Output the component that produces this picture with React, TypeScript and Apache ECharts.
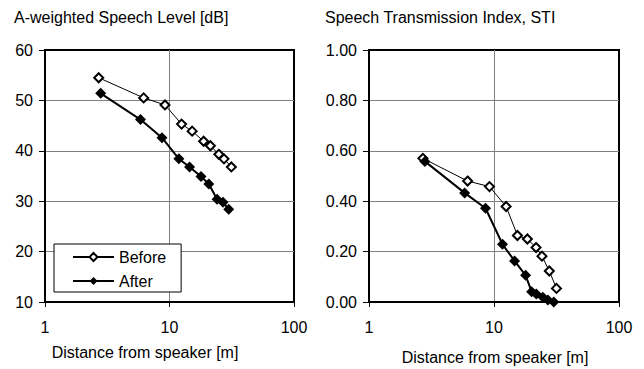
import React, { useEffect, useRef } from "react";
import * as echarts from "echarts";

const FONT = "'Liberation Sans', Arial, sans-serif";

// Left chart: A-weighted speech level [dB]
const levelBeforeX = [2.7, 6.2, 9.2, 12.5, 15.2, 18.8, 21.3, 24.9, 27.4, 31.4];
const levelBeforeY = [54.5, 50.5, 49.1, 45.3, 43.9, 41.9, 41.0, 39.3, 38.4, 36.8];
const levelAfterX = [2.8, 5.85, 8.7, 11.9, 14.5, 17.9, 20.7, 24.1, 26.9, 29.9];
const levelAfterY = [51.4, 46.2, 42.6, 38.4, 36.8, 34.9, 33.4, 30.4, 29.8, 28.4];

// Right chart: STI
const stiBeforeX = [2.7, 6.15, 9.2, 12.5, 15.4, 18.5, 21.7, 24.2, 27.7, 31.6];
const stiBeforeY = [0.57, 0.48, 0.458, 0.379, 0.264, 0.25, 0.216, 0.182, 0.123, 0.054];
const stiAfterX = [2.8, 5.82, 8.55, 11.7, 14.6, 17.9, 20.0, 21.8, 24.6, 27.0, 30.1];
const stiAfterY = [0.558, 0.433, 0.372, 0.229, 0.163, 0.106, 0.041, 0.032, 0.019, 0.008, 0.0];

const xTicks = [1, 10, 100];
const levelTicks = [10, 20, 30, 40, 50, 60];
const stiTicks = [0, 0.2, 0.4, 0.6, 0.8, 1.0];

const titles = ["A-weighted Speech Level [dB]", "Speech Transmission Index, STI"];
const xName = "Distance from speaker [m]";
const seriesNames = ["Before", "After"];

const zip = (xs: number[], ys: number[]) => xs.map((x, i) => [x, ys[i]]);

export default function App() {
  const ref = useRef<HTMLDivElement>(null);
  useEffect(() => {
    if (!ref.current) return;
    const chart = echarts.init(ref.current, null, { renderer: "svg" });
    const grids = [
      { left: 45, top: 50, width: 249, height: 252 },
      { left: 369, top: 50, width: 250, height: 252 },
    ];
    const xAxisBase = (gi: number) => ({
      type: "log",
      logBase: 10,
      gridIndex: gi,
      min: xTicks[0],
      max: xTicks[xTicks.length - 1],
      axisLine: { show: true, lineStyle: { color: "#000", width: 2 } },
      axisTick: { show: true, inside: false, length: 5, lineStyle: { color: "#000", width: 1 } },
      axisLabel: { color: "#000", fontSize: 16, fontFamily: FONT, margin: 17 },
      splitLine: { show: true, showMinLine: false, showMaxLine: false, lineStyle: { color: "#808080", width: 1 } },
      minorTick: { show: false },
    });
    const yAxisBase = (gi: number, ticks: number[], fmt: (v: number) => string) => ({
      type: "value",
      gridIndex: gi,
      min: ticks[0],
      max: ticks[ticks.length - 1],
      interval: ticks[1] - ticks[0],
      axisLine: { show: true, lineStyle: { color: "#000", width: 2 } },
      axisTick: { show: true, inside: false, length: 6, lineStyle: { color: "#000", width: 1 } },
      axisLabel: { color: "#000", fontSize: 16, fontFamily: FONT, margin: 12, formatter: fmt },
      splitLine: { show: true, showMinLine: false, showMaxLine: false, lineStyle: { color: "#808080", width: 1 } },
    });
    const beforeSeries = (gi: number, data: number[][]) => ({
      name: seriesNames[0],
      type: "line",
      xAxisIndex: gi,
      yAxisIndex: gi,
      data,
      symbol: "diamond",
      symbolSize: 9,
      showAllSymbol: true,
      lineStyle: { color: "#000", width: 1 },
      itemStyle: { color: "#fff", borderColor: "#000", borderWidth: 2 },
      z: 3,
    });
    const afterSeries = (gi: number, data: number[][]) => ({
      name: seriesNames[1],
      type: "line",
      xAxisIndex: gi,
      yAxisIndex: gi,
      data,
      symbol: "diamond",
      symbolSize: 11,
      showAllSymbol: true,
      lineStyle: { color: "#000", width: 2 },
      itemStyle: { color: "#000", borderColor: "#000", borderWidth: 0 },
      z: 4,
    });
    const textEl = (text: string, x: number, y: number, align: string) => ({
      type: "text",
      x,
      y,
      silent: true,
      style: {
        text,
        fill: "#000",
        font: `16px ${FONT}`,
        align,
        verticalAlign: "middle",
        textAlign: align,
        textVerticalAlign: "middle",
      },
    });
    chart.setOption({
      animation: false,
      backgroundColor: "#fff",
      grid: grids.map((g) => ({ ...g, show: true, borderColor: "#000", borderWidth: 2, backgroundColor: "transparent" })),
      xAxis: [xAxisBase(0), xAxisBase(1)],
      yAxis: [
        yAxisBase(0, levelTicks, (v: number) => String(v)),
        yAxisBase(1, stiTicks, (v: number) => v.toFixed(2)),
      ],
      legend: {
        show: true,
        orient: "vertical",
        left: 54,
        top: 244,
        data: seriesNames,
        itemWidth: 41,
        itemHeight: 10,
        itemGap: 8,
        padding: [5, 15, 3, 18],
        borderColor: "#000",
        borderWidth: 1,
        backgroundColor: "#fff",
        textStyle: { color: "#000", fontSize: 16, fontFamily: FONT, lineHeight: 16, padding: [0, 0, 0, 0] },
      },
      series: [
        beforeSeries(0, zip(levelBeforeX, levelBeforeY)),
        afterSeries(0, zip(levelAfterX, levelAfterY)),
        beforeSeries(1, zip(stiBeforeX, stiBeforeY)),
        afterSeries(1, zip(stiAfterX, stiAfterY)),
      ],
      graphic: [
        textEl(titles[0], 14, 17.5, "left"),
        textEl(titles[1], 325, 17, "left"),
        textEl(xName, 145, 352, "center"),
        textEl(xName, 495, 357, "center"),
      ],
    });
    return () => chart.dispose();
  }, []);
  return (
    <div
      ref={ref}
      style={{ position: "fixed", left: 0, top: 0, width: 644, height: 369, background: "#fff" }}
    />
  );
}
